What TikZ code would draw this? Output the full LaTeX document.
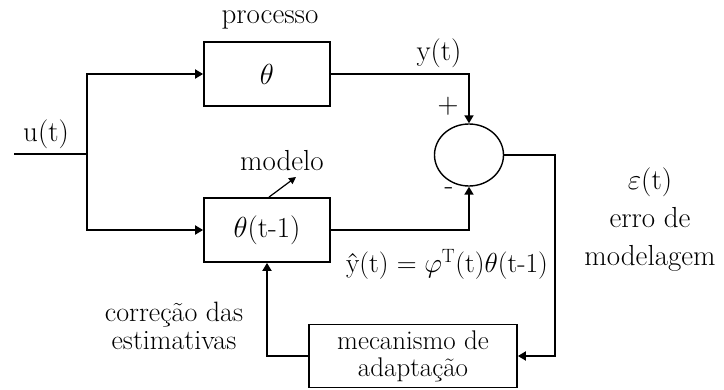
\RequirePackage{fix-cm}
\documentclass[tikz,border=0pt]{standalone}
\usetikzlibrary{arrows.meta,shapes.geometric,calc}
\begin{document}
\begin{tikzpicture}[x=1pt,y=-1pt,
  font=\fontsize{29}{32}\selectfont,
  line width=1.8pt,
  blk/.style={draw, rectangle, inner sep=0pt},
  arr/.style={-{Triangle[length=8pt,width=9pt]}},
  thinarr/.style={line width=1.2pt,-{Triangle[length=7pt,width=7pt]}},
  lbl/.style={inner sep=0pt}]
\useasboundingbox (0,0) rectangle (724,390);

% blocks
\node[blk, minimum width=126pt, minimum height=64pt] (proc) at (267,74) {$\theta$};
\node[blk, minimum width=126pt, minimum height=64pt] (model) at (267,230) {$\theta$(t-1)};
\node[blk, minimum width=208pt, minimum height=63pt, align=center,
      font=\fontsize{27}{27}\selectfont] (mech) at (413,356) {mecanismo de\\adaptação};
\node[draw, line width=1.4pt, ellipse, inner sep=0pt, minimum width=69pt, minimum height=62pt] (sum) at (469,155) {};

% coordinates
\coordinate (in) at (14,154);
\coordinate (j) at (87,154);
\coordinate (eR) at (555,356);
\coordinate (mtip) at (296,177);

% connectors
\draw (in) -- (j);
\draw[arr] (j) |- (proc.west);
\draw[arr] (j) |- (model.west);
\draw[arr] (proc.east) -| (sum.north);
\draw[arr] (model.east) -| (sum.south);
\draw[arr] (sum.east) -| (eR) -- (mech.east);
\draw[arr] (mech.west) -| (model.south);
\draw[thinarr] ($(model.north)+(2,0)$) -- (mtip);

% labels
\node[lbl] (lproc) at (270,20) {processo};
\node[lbl] (lu) at (46,134) {u(t)};
\node[lbl] (ly) at (439,53) {y(t)};
\node[lbl] (lplus) at (448,106) {+};
\node[lbl] (lminus) at (449,191) {-};
\node[lbl] (lmodel) at (282,161) {modelo};
\node[lbl, font=\fontsize{27.5}{30}\selectfont] (leq) at (447,264) {ŷ(t) $=\varphi^{\mathrm{T}}$(t)$\theta$(t-1)};
\node[lbl, align=center, font=\fontsize{28}{28}\selectfont] (lcorr) at (174,326) {correção das\\estimativas};
\node[lbl, align=center, font=\fontsize{29}{38}\selectfont] (lerr) at (650,220) {$\varepsilon$(t)\\erro de\\modelagem};
\end{tikzpicture}
\end{document}
